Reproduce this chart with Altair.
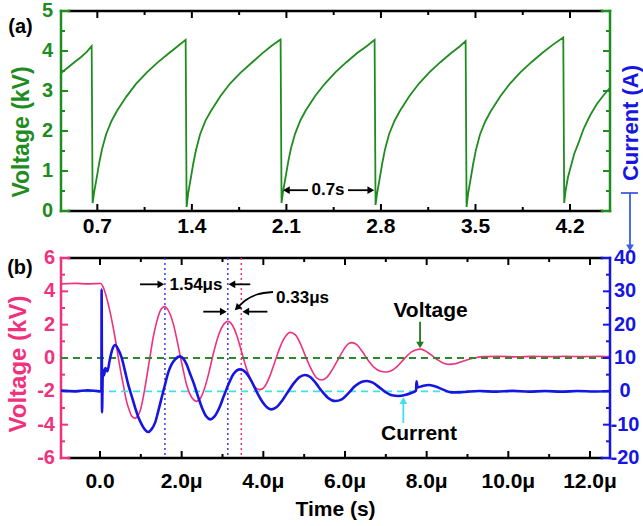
import altair as alt
import pandas as pd

# ---------------- Panel (a): repetitive charging voltage (time in s, voltage in kV)
saw_t = [0.431, 0.48, 0.53, 0.58, 0.62, 0.658, 0.665,
         0.677, 0.695, 0.715, 0.735, 0.765, 0.805, 0.845, 0.915, 0.985, 1.065, 1.145, 1.225, 1.295, 1.354, 1.361,
         1.373, 1.391, 1.411, 1.431, 1.461, 1.501, 1.541, 1.611, 1.681, 1.761, 1.841, 1.921, 1.991, 2.057, 2.064,
         2.076, 2.094, 2.114, 2.134, 2.164, 2.204, 2.244, 2.314, 2.384, 2.464, 2.544, 2.624, 2.694, 2.753, 2.760,
         2.772, 2.790, 2.810, 2.830, 2.860, 2.900, 2.940, 3.010, 3.080, 3.160, 3.240, 3.320, 3.385, 3.427, 3.434,
         3.446, 3.464, 3.484, 3.504, 3.534, 3.574, 3.614, 3.684, 3.754, 3.834, 3.914, 3.994, 4.074, 4.150, 4.157,
         4.167, 4.185, 4.205, 4.230, 4.265, 4.300, 4.350, 4.400, 4.450, 4.496]
saw_v = [3.45, 3.58, 3.72, 3.85, 3.97, 4.12, 0.20,
         0.48, 0.82, 1.22, 1.55, 1.92, 2.25, 2.50, 2.86, 3.17, 3.46, 3.71, 3.93, 4.12, 4.28, 0.10,
         0.45, 0.80, 1.20, 1.53, 1.92, 2.26, 2.50, 2.87, 3.18, 3.46, 3.70, 3.94, 4.13, 4.29, 0.20,
         0.50, 0.85, 1.24, 1.57, 1.93, 2.27, 2.52, 2.88, 3.18, 3.47, 3.72, 3.95, 4.12, 4.28, 0.15,
         0.45, 0.80, 1.20, 1.54, 1.92, 2.25, 2.50, 2.87, 3.18, 3.47, 3.72, 3.95, 4.12, 4.25, 0.10,
         0.45, 0.80, 1.20, 1.54, 1.92, 2.25, 2.50, 2.87, 3.18, 3.47, 3.72, 3.95, 4.16, 4.34, 0.20,
         0.50, 0.85, 1.10, 1.42, 1.72, 2.05, 2.40, 2.68, 2.90, 3.08]

# ---------------- Panel (b): single discharge (time in microseconds)
volt_pts = [(-0.955, 4.45), (-0.6, 4.48), (-0.3, 4.45), (0.02, 4.47), (0.07, 4.3), (0.12, 3.98), (0.18, 3.45),
            (0.245, 2.78), (0.31, 2.0), (0.37, 1.2), (0.45, 0.0), (0.51, -0.85), (0.57, -1.6), (0.65, -2.6),
            (0.72, -3.15), (0.78, -3.5), (0.86, -3.62), (0.92, -3.5), (0.98, -3.2), (1.04, -2.6), (1.10, -1.8),
            (1.16, -0.9), (1.22, 0.0), (1.30, 1.2), (1.39, 2.18), (1.47, 2.8), (1.53, 3.02), (1.59, 3.08),
            (1.66, 2.9), (1.73, 2.55), (1.80, 2.0), (1.88, 1.15), (1.96, 0.18), (2.04, -0.75), (2.12, -1.6),
            (2.20, -2.15), (2.29, -2.5), (2.37, -2.6), (2.45, -2.45), (2.55, -1.9), (2.66, -0.95), (2.78, 0.3),
            (2.90, 1.35), (3.01, 1.95), (3.13, 2.2), (3.24, 1.98), (3.35, 1.35), (3.47, 0.35), (3.59, -0.65),
            (3.71, -1.4), (3.82, -1.8), (3.92, -1.9), (4.03, -1.72), (4.15, -1.15), (4.28, -0.25), (4.41, 0.65),
            (4.53, 1.25), (4.66, 1.54), (4.78, 1.4), (4.91, 0.85), (5.05, 0.0), (5.19, -0.75), (5.31, -1.2),
            (5.43, -1.32), (5.56, -1.15), (5.70, -0.65), (5.85, 0.0), (5.98, 0.55), (6.08, 0.85), (6.17, 0.92),
            (6.28, 0.82), (6.42, 0.4), (6.57, -0.15), (6.72, -0.58), (6.87, -0.8), (7.0, -0.84), (7.12, -0.78),
            (7.28, -0.5), (7.45, -0.05), (7.62, 0.35), (7.75, 0.5), (7.84, 0.53), (7.95, 0.45), (8.10, 0.2),
            (8.25, -0.08), (8.40, -0.3), (8.55, -0.38), (8.70, -0.35), (8.85, -0.22), (9.0, -0.1), (9.2, 0.02),
            (9.4, 0.08), (9.8, 0.1), (10.2, 0.07), (10.6, 0.1), (11.0, 0.08), (11.4, 0.1), (11.8, 0.08),
            (12.2, 0.1), (12.49, 0.08)]
curr_pts = [(-0.955, 0.2), (-0.6, 0.0), (-0.3, 0.3), (0.0, 0.0), (0.035, 0.2), (0.04, 30.5), (0.05, -6.3),
            (0.07, 6.5), (0.10, 4.8), (0.13, 7.0), (0.18, 6.0), (0.24, 9.5), (0.30, 12.5), (0.37, 13.9),
            (0.45, 12.5), (0.53, 10.1), (0.61, 6.2), (0.69, 2.1), (0.78, -1.6), (0.86, -4.9), (0.94, -7.8),
            (1.02, -9.9), (1.10, -11.5), (1.18, -12.2), (1.26, -11.4), (1.35, -9.4), (1.43, -5.8), (1.51, -1.9),
            (1.59, 1.9), (1.67, 5.6), (1.75, 8.0), (1.84, 9.6), (1.96, 10.5), (2.04, 9.8), (2.12, 8.1),
            (2.20, 5.5), (2.29, 2.6), (2.40, -1.5), (2.50, -5.0), (2.60, -7.5), (2.70, -8.4), (2.80, -7.6),
            (2.92, -5.0), (3.03, -1.5), (3.15, 2.2), (3.27, 5.2), (3.43, 6.6), (3.56, 5.8), (3.70, 3.3),
            (3.84, -0.2), (3.98, -3.2), (4.10, -4.9), (4.20, -5.4), (4.32, -4.8), (4.46, -2.8), (4.60, -0.2),
            (4.74, 2.3), (4.88, 4.2), (5.02, 4.9), (5.15, 4.3), (5.29, 2.4), (5.43, 0.1), (5.58, -1.9),
            (5.76, -2.9), (5.92, -2.4), (6.08, -0.6), (6.24, 1.5), (6.40, 2.8), (6.54, 3.1), (6.68, 2.6),
            (6.84, 1.2), (7.0, -0.3), (7.15, -1.2), (7.31, -1.4), (7.47, -1.1), (7.62, -0.5), (7.74, 0.2),
            (7.75, 3.0), (7.78, 1.2), (7.90, 1.6), (8.05, 1.9), (8.20, 1.5), (8.35, 0.8), (8.48, 0.1),
            (8.60, -0.3), (8.80, -0.3), (9.0, -0.1), (9.3, 0.1), (9.7, -0.1), (10.1, 0.15), (10.5, -0.1),
            (10.9, 0.1), (11.3, -0.1), (11.7, 0.1), (12.1, -0.05), (12.49, 0.1)]

# ---------------- axis tick values and labels
a_x_major = [0.7, 1.4, 2.1, 2.8, 3.5, 4.2]
a_x_labels = ["0.7", "1.4", "2.1", "2.8", "3.5", "4.2"]
a_x_minor = [1.05, 1.75, 2.45, 3.15, 3.85]
a_y_major = [0, 1, 2, 3, 4, 5]
a_y_labels = ["0", "1", "2", "3", "4", "5"]
a_y_minor = [0.5, 1.5, 2.5, 3.5, 4.5]
b_x_major = [0, 2, 4, 6, 8, 10, 12]
b_x_labels = ["0.0", "2.0μ", "4.0μ", "6.0μ", "8.0μ", "10.0μ", "12.0μ"]
b_x_minor = [1, 3, 5, 7, 9, 11]
b_yl_major = [-6, -4, -2, 0, 2, 4, 6]
b_yl_labels = ["-6", "-4", "-2", "0", "2", "4", "6"]
b_yl_minor = [-5, -3, -1, 1, 3, 5]
b_yr_major = [-20, -10, 0, 10, 20, 30, 40]
b_yr_labels = ["-20", "-10", "0", "10", "20", "30", "40"]
b_yr_minor = [-15, -5, 5, 15, 25, 35]

a_xdom = [0.431, 4.496]
a_ydom = [0, 5]
b_xdom = [-0.955, 12.49]
b_yldom = [-6, 6]
b_yrdom = [-20, 40]

# ---------------- annotations (data coordinates)
a_arrow_t = [2.10, 2.556]
a_arrow_t2 = [2.26, 2.72]
a_arrow_v = [0.52, 0.52]
a_head_t = [2.10, 2.725]
a_head_v = [0.52, 0.52]
a_head_shape = ["triangle-left", "triangle-right"]
a_text_t = [2.408, 0.131]
a_text_v = [0.52, 4.6]
a_text = ["0.7s", "(a)"]
a_text_size = [17, 20]

b_arrow_t = [0.98, 3.68, 2.53, 4.10]
b_arrow_t2 = [1.50, 3.22, 3.03, 3.56]
b_arrow_v = [4.42, 4.42, 2.78, 2.78]
b_head_t = [1.49, 3.23, 3.02, 3.57]
b_head_v = [4.42, 4.42, 2.78, 2.78]
b_head_shape = ["triangle-right", "triangle-left", "triangle-right", "triangle-left"]
b_curve_t = [4.237, 3.845, 3.575, 3.392]
b_curve_v = [3.96, 3.81, 3.48, 3.09]
b_text_t = [2.351, 4.96, 8.095, 7.813, -1.96]
b_text_v = [4.38, 3.6, 2.82, -4.53, 5.4]
b_text = ["1.54μs", "0.33μs", "Voltage", "Current", "(b)"]
b_text_size = [17, 17, 21, 21, 20]
b_blue_dotted = [1.59, 3.13]
b_pink_dotted = [3.46]

W, H = 549, 200
FONT = "Liberation Sans"
GREEN = "#1f8c1f"
PINK = "#f0317e"
BLUE = "#1616e0"
ARROW_BLUE = "#3a5ee8"
CYAN = "#3fe0e6"
DGREEN = "#2a8a2a"


def sx(dom):
    return alt.Scale(domain=dom, nice=False, zero=False)


def ax(dom, field="t"):
    return alt.X(f"{field}:Q", scale=sx(dom), axis=None)


def ay(dom, field="v"):
    return alt.Y(f"{field}:Q", scale=sx(dom), axis=None)


one = alt.Chart(pd.DataFrame({"k": [0]}))
TXT = dict(font=FONT, fontWeight="bold")


def frame(left_color, right_color):
    cap, sw = 8, 2.5
    r = dict(strokeWidth=sw, strokeCap="square")
    return [
        one.mark_rule(color="black", **r).encode(x=alt.value(cap), x2=alt.value(W - cap), y=alt.value(0)),
        one.mark_rule(color="black", **r).encode(x=alt.value(cap), x2=alt.value(W - cap), y=alt.value(H)),
        one.mark_rule(color=left_color, **r).encode(x=alt.value(0), y=alt.value(0), y2=alt.value(H)),
        one.mark_rule(color=left_color, **r).encode(x=alt.value(0), x2=alt.value(cap), y=alt.value(0)),
        one.mark_rule(color=left_color, **r).encode(x=alt.value(0), x2=alt.value(cap), y=alt.value(H)),
        one.mark_rule(color=right_color, **r).encode(x=alt.value(W), y=alt.value(0), y2=alt.value(H)),
        one.mark_rule(color=right_color, **r).encode(x=alt.value(W - cap), x2=alt.value(W), y=alt.value(0)),
        one.mark_rule(color=right_color, **r).encode(x=alt.value(W - cap), x2=alt.value(W), y=alt.value(H)),
    ]


def xticks(vals, dom, length):
    base = alt.Chart(pd.DataFrame({"t": vals}))
    return [
        base.mark_rule(color="black", strokeWidth=2).encode(x=ax(dom), y=alt.value(0), y2=alt.value(length)),
        base.mark_rule(color="black", strokeWidth=2).encode(x=ax(dom), y=alt.value(H - length), y2=alt.value(H)),
    ]


def yticks(vals, dom, length, color, side):
    base = alt.Chart(pd.DataFrame({"v": vals}))
    x0, x1 = (0, length) if side == "left" else (W - length, W)
    return base.mark_rule(color=color, strokeWidth=2).encode(y=ay(dom), x=alt.value(x0), x2=alt.value(x1))


def xlabels(vals, labels, dom, offset, size):
    return alt.Chart(pd.DataFrame({"t": vals, "s": labels})).mark_text(
        align="center", baseline="middle", fontSize=size, color="black", **TXT).encode(
        x=ax(dom), y=alt.value(H + offset), text="s:N")


def ylabels(vals, labels, dom, xpos, align, color, size=20):
    return alt.Chart(pd.DataFrame({"v": vals, "s": labels})).mark_text(
        align=align, baseline="middle", fontSize=size, color=color, **TXT).encode(
        y=ay(dom), x=alt.value(xpos), text="s:N")


def title(text, xpos, ypos, size, color, angle=0):
    return one.mark_text(align="center", baseline="middle", fontSize=size, color=color,
                         angle=angle, text=text, **TXT).encode(x=alt.value(xpos), y=alt.value(ypos))


# ======================= Panel (a)
saw_df = pd.DataFrame({"t": saw_t, "v": saw_v})
saw = alt.Chart(saw_df).mark_line(color=GREEN, strokeWidth=1.8, clip=True).encode(
    x=ax(a_xdom), y=ay(a_ydom))

a_arr = alt.Chart(pd.DataFrame({"t": a_arrow_t, "t2": a_arrow_t2, "v": a_arrow_v})).mark_rule(
    color="black", strokeWidth=1.8).encode(x=ax(a_xdom), x2="t2:Q", y=ay(a_ydom))
a_heads = alt.Chart(pd.DataFrame({"t": a_head_t, "v": a_head_v, "s": a_head_shape})).mark_point(
    filled=True, color="black", size=60, opacity=1).encode(
    x=ax(a_xdom), y=ay(a_ydom), shape=alt.Shape("s:N", scale=None))
a_txt = alt.Chart(pd.DataFrame({"t": a_text_t, "v": a_text_v, "s": a_text, "z": a_text_size})).mark_text(
    color="black", align="center", baseline="middle", **TXT).encode(
    x=ax(a_xdom), y=ay(a_ydom), text="s:N", size=alt.Size("z:Q", scale=None))

# "Current (A)" label with a blue pointer into panel (b)
cur_title = alt.Chart(pd.DataFrame({"t": [4.652], "v": [2.2], "s": ["Current (A)"]})).mark_text(
    fontSize=22, color=BLUE, angle=270, align="center", baseline="middle", **TXT).encode(
    x=ax(a_xdom), y=ay(a_ydom), text="s:N")
ptr_h = alt.Chart(pd.DataFrame({"t": [4.577], "t2": [4.703], "v": [0.45]})).mark_rule(
    color=ARROW_BLUE, strokeWidth=1.8).encode(x=ax(a_xdom), x2="t2:Q", y=ay(a_ydom))
ptr_v = alt.Chart(pd.DataFrame({"t": [4.644], "v": [0.45], "v2": [-0.85]})).mark_rule(
    color=ARROW_BLUE, strokeWidth=1.8).encode(x=ax(a_xdom), y=ay(a_ydom), y2="v2:Q")
ptr_head = alt.Chart(pd.DataFrame({"t": [4.644], "v": [-0.92]})).mark_point(
    shape="triangle-down", filled=True, color=ARROW_BLUE, size=60, opacity=1).encode(
    x=ax(a_xdom), y=ay(a_ydom))

panel_a = alt.layer(
    saw,
    *frame(GREEN, GREEN),
    *xticks(a_x_major, a_xdom, 7), *xticks(a_x_minor, a_xdom, 4),
    yticks(a_y_major, a_ydom, 7, GREEN, "left"), yticks(a_y_minor, a_ydom, 4, GREEN, "left"),
    yticks(a_y_major, a_ydom, 7, GREEN, "right"), yticks(a_y_minor, a_ydom, 4, GREEN, "right"),
    xlabels(a_x_major, a_x_labels, a_xdom, 16, 21),
    ylabels(a_y_major, a_y_labels, a_ydom, -8, "right", GREEN),
    title("Voltage (kV)", -39, 121, 23, GREEN, 270),
    a_arr, a_heads, a_txt, cur_title, ptr_h, ptr_v, ptr_head,
).properties(width=W, height=H)

# ======================= Panel (b)
volt_df = pd.DataFrame({"t": [p[0] for p in volt_pts], "v": [p[1] for p in volt_pts]})
curr_df = pd.DataFrame({"t": [p[0] for p in curr_pts], "i": [p[1] for p in curr_pts]})


def bx():
    return ax(b_xdom)


def by():
    return ay(b_yldom)


dash_g = alt.Chart(pd.DataFrame({"v": [0]})).mark_rule(
    color=DGREEN, strokeWidth=1.8, strokeDash=[7, 5]).encode(y=by(), x=alt.value(0), x2=alt.value(W))
dash_c = alt.Chart(pd.DataFrame({"v": [-2]})).mark_rule(
    color=CYAN, strokeWidth=1.8, strokeDash=[7, 5]).encode(y=by(), x=alt.value(0), x2=alt.value(W))
dot_b = alt.Chart(pd.DataFrame({"t": b_blue_dotted})).mark_rule(
    color="#3a3ae8", strokeWidth=1.5, strokeDash=[2, 3]).encode(x=bx(), y=alt.value(0), y2=alt.value(H))
dot_p = alt.Chart(pd.DataFrame({"t": b_pink_dotted})).mark_rule(
    color=PINK, strokeWidth=1.5, strokeDash=[2, 3]).encode(x=bx(), y=alt.value(0), y2=alt.value(H))

volt = alt.Chart(volt_df).mark_line(color=PINK, strokeWidth=1.6, interpolate="monotone", clip=True).encode(
    x=bx(), y=by())

b_arr = alt.Chart(pd.DataFrame({"t": b_arrow_t, "t2": b_arrow_t2, "v": b_arrow_v})).mark_rule(
    color="black", strokeWidth=1.8).encode(x=bx(), x2="t2:Q", y=by())
b_heads = alt.Chart(pd.DataFrame({"t": b_head_t, "v": b_head_v, "s": b_head_shape})).mark_point(
    filled=True, color="black", size=60, opacity=1).encode(
    x=bx(), y=by(), shape=alt.Shape("s:N", scale=None))
b_curve = alt.Chart(pd.DataFrame({"t": b_curve_t, "v": b_curve_v})).mark_line(
    color="black", strokeWidth=1.8, interpolate="monotone").encode(x=bx(), y=by())
b_curve_head = alt.Chart(pd.DataFrame({"t": [3.36], "v": [3.0]})).mark_point(
    shape="triangle-down", angle=45, filled=True, color="black", size=60, opacity=1).encode(x=bx(), y=by())
g_arr = alt.Chart(pd.DataFrame({"t": [7.838], "v": [2.18], "v2": [0.85]})).mark_rule(
    color="#1e7b1e", strokeWidth=1.8).encode(x=bx(), y=by(), y2="v2:Q")
g_head = alt.Chart(pd.DataFrame({"t": [7.838], "v": [0.78]})).mark_point(
    shape="triangle-down", filled=True, color="#1e7b1e", size=60, opacity=1).encode(x=bx(), y=by())
c_arr = alt.Chart(pd.DataFrame({"t": [7.429], "v": [-3.9], "v2": [-2.65]})).mark_rule(
    color=CYAN, strokeWidth=1.8).encode(x=bx(), y=by(), y2="v2:Q")
c_head = alt.Chart(pd.DataFrame({"t": [7.429], "v": [-2.56]})).mark_point(
    shape="triangle-up", filled=True, color=CYAN, size=60, opacity=1).encode(x=bx(), y=by())
b_txt = alt.Chart(pd.DataFrame({"t": b_text_t, "v": b_text_v, "s": b_text, "z": b_text_size})).mark_text(
    color="black", align="center", baseline="middle", **TXT).encode(
    x=bx(), y=by(), text="s:N", size=alt.Size("z:Q", scale=None))

left_group = alt.layer(
    volt,
    *frame(PINK, BLUE),
    *xticks(b_x_major, b_xdom, 7), *xticks(b_x_minor, b_xdom, 4),
    yticks(b_yl_major, b_yldom, 7, PINK, "left"), yticks(b_yl_minor, b_yldom, 4, PINK, "left"),
    xlabels(b_x_major, b_x_labels, b_xdom, 24, 21),
    ylabels(b_yl_major, b_yl_labels, b_yldom, -6, "right", PINK),
    title("Voltage (kV)", -42, 106, 24, PINK, 270),
    title("Time (s)", W / 2, 252, 21, "black"),
    dash_g, dash_c, dot_b, dot_p,
    b_arr, b_heads, b_curve, b_curve_head, g_arr, g_head, c_arr, c_head, b_txt,
)

curr = alt.Chart(curr_df).mark_line(color=BLUE, strokeWidth=2.6, interpolate="monotone", clip=True).encode(
    x=bx(), y=ay(b_yrdom, "i"))
right_group = alt.layer(
    curr,
    yticks(b_yr_major, b_yrdom, 7, BLUE, "right"), yticks(b_yr_minor, b_yrdom, 4, BLUE, "right"),
    ylabels(b_yr_major, b_yr_labels, b_yrdom, W + 15, "center", BLUE),
)

panel_b = alt.layer(left_group, right_group).resolve_scale(y="independent").properties(width=W, height=H)

chart = alt.vconcat(panel_a, panel_b, spacing=47, bounds="flush").properties(
    padding={"left": 7, "top": 1, "right": 0, "bottom": 0},
    background="white",
).configure_view(stroke=None)

chart.save("out.html", embed_options={"renderer": "svg", "actions": False})
